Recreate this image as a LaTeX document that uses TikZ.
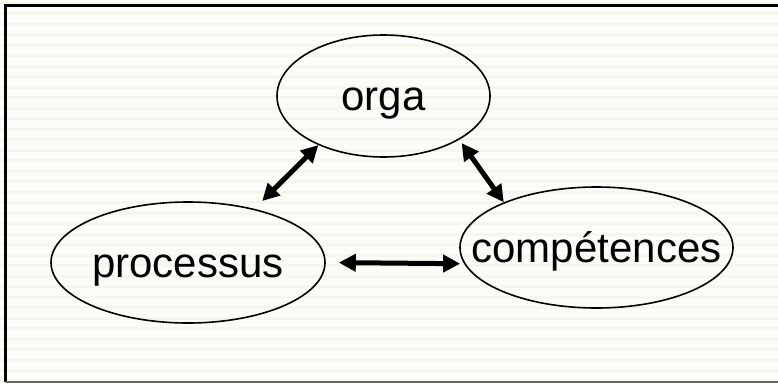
\documentclass[tikz,border=0pt]{standalone}
\usepackage{fontspec}
\setmainfont{Liberation Sans}
\usetikzlibrary{shapes.geometric, arrows.meta}
\definecolor{paper}{RGB}{252,252,249}
\definecolor{stripe}{RGB}{246,246,239}
\colorlet{rule}{black!60}
\tikzset{
  bubble/.style ={ellipse, draw=black, line width=1.6pt, inner sep=0pt},
  word/.style   ={font=\fontsize{42}{50}\selectfont, inner sep=0pt,
                  text height=38pt, text depth=9pt},
  link/.style   ={{Triangle[length=17pt,width=17pt]}-{Triangle[length=17pt,width=17pt]},
                  line width=5pt},
}

\begin{document}
\begin{tikzpicture}[x=1pt, y=-1pt]
\useasboundingbox (0,0) rectangle (778,383);

% --- paper and frame ---
\fill[paper] (0,0) rectangle (778,383);
\foreach \y in {3,13.5,...,383}
  \draw[stripe, line width=3pt] (0,\y) -- (778,\y);
\draw[line width=2.5pt] (778,5.5) -- (5.5,5.5) -- (5.5,382);
\draw[rule, line width=1.5pt] (5.5,382) -- (778,382);

% --- the three bubbles ---
\node[bubble, minimum width=213pt, minimum height=122pt] (orga) at (383.5,96) {};
\node[bubble, minimum width=274pt, minimum height=121pt] (proc) at (188,262.5) {};
\node[bubble, minimum width=273pt, minimum height=121pt] (comp) at (596.5,247.5) {};

\node[word] (orgaTxt) at (orga.center) {orga};
\node[word] (procTxt) at (proc.center) {processus};
\node[word] (compTxt) at (comp.center) {compétences};

% --- links ---
\draw[link, shorten >=11pt] (orga.217) -- (proc.39);
\draw[link, shorten <=4pt] (orga.330) -- (comp.154);
\draw[link, shorten <=13pt, shorten >=4pt] (proc.east) -- (comp.187);

\end{tikzpicture}
\end{document}
